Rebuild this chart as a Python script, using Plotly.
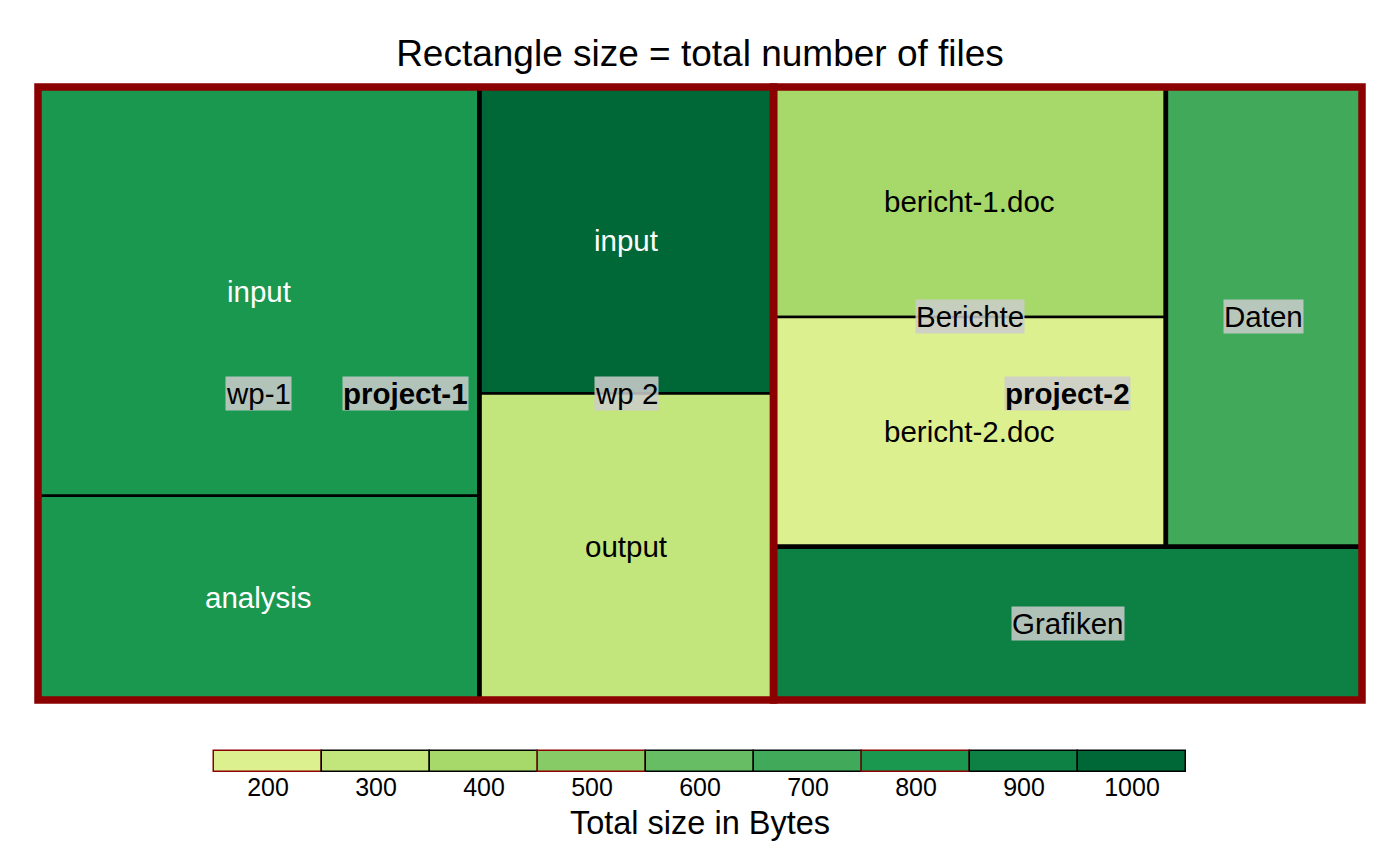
import plotly.graph_objects as go

# ---------------- data ----------------
projects = ["project-1", "project-1", "project-1", "project-1",
            "project-2", "project-2", "project-2", "project-2"]
folders = ["wp-1", "wp-1", "wp 2", "wp 2", "Berichte", "Berichte", "Daten", "Grafiken"]
files = ["input", "analysis", "input", "output", "bericht-1.doc", "bericht-2.doc", None, None]
n_files = [2, 1, 1, 1, 1, 1, 1, 1]
size_bytes = [800, 800, 1000, 300, 400, 200, 700, 900]

legend_values = [200, 300, 400, 500, 600, 700, 800, 900, 1000]
legend_colors = ["#ddf08f", "#c2e57c", "#a6d96a", "#86cb66", "#66bd63",
                 "#40aa5a", "#1a9850", "#0d8044", "#006837"]
legend_edge = ["#8b0000", "black", "black", "#8b0000", "black",
               "black", "#8b0000", "black", "black"]

title_text = "Rectangle size = total number of files"
legend_title = "Total size in Bytes"

# ---------------- geometry (layout constants, pixels) ----------------
FIG_W, FIG_H = 1400, 865
OFF = 8      # page body margin in the browser
PAD = 6      # room so thick borders are not clipped
LPAD = 2     # same for the legend boxes
MAP_L, MAP_T = 38 - OFF, 87 - OFF
MAP_R, MAP_B = 1362 - OFF, 700 - OFF
LEG_TOP, LEG_BOTTOM = 751 - OFF, 772 - OFF
LEG_LEFT, LEG_RIGHT = 214 - OFF, 1186 - OFF
W = MAP_R - MAP_L
H = MAP_B - MAP_T
AREA_L, AREA_R = MAP_L - PAD, MAP_R + PAD
AREA_T, AREA_B = MAP_T - PAD, LEG_BOTTOM + LPAD
AREA_W, AREA_H = AREA_R - AREA_L, AREA_B - AREA_T
FONT = "Liberation Sans, Arial, Helvetica, sans-serif"
LABEL_SIZE = 29.5


def color_for(v):
    idx = min(range(len(legend_values)), key=lambda i: abs(legend_values[i] - v))
    return legend_colors[idx]


def is_dark(hexcol):
    h = hexcol.lstrip("#")
    r, g, b = int(h[0:2], 16), int(h[2:4], 16), int(h[4:6], 16)
    return 0.299 * r + 0.587 * g + 0.114 * b < 140


def pivot_layout(items, x0, y0, x1, y1):
    """Ordered treemap, pivot-by-size. items: list of (key, value). y up."""
    out = {}
    if not items:
        return out
    items = sorted(items, key=lambda t: -t[1])
    if len(items) == 1:
        out[items[0][0]] = (x0, y0, x1, y1)
        return out
    w, h = x1 - x0, y1 - y0
    total = sum(v for _, v in items)
    pk, pv = items[0]
    rest = items[1:]
    best = None
    for k in range(len(rest) + 1):
        s = pv + sum(v for _, v in rest[:k])
        if w >= h:
            pw, ph = s / total * w, pv / s * h
        else:
            ph, pw = s / total * h, pv / s * w
        ar = max(pw / ph, ph / pw)
        if best is None or ar < best[0] - 1e-9:
            best = (ar, k)
    k = best[1]
    L2, L3 = rest[:k], rest[k:]
    s = pv + sum(v for _, v in L2)
    if w >= h:
        rx = x0 + s / total * w
        py = y1 - pv / s * h
        out[pk] = (x0, py, rx, y1)
        out.update(pivot_layout(L2, x0, y0, rx, py))
        out.update(pivot_layout(L3, rx, y0, x1, y1))
    else:
        ry = y1 - s / total * h
        px = x0 + pv / s * w
        out[pk] = (x0, ry, px, y1)
        out.update(pivot_layout(L2, px, ry, x1, y1))
        out.update(pivot_layout(L3, x0, y0, x1, ry))
    return out


# aggregate hierarchy
proj_order, proj_tot = [], {}
fold_order, fold_tot = {}, {}
for p, f, n in zip(projects, folders, n_files):
    if p not in proj_tot:
        proj_order.append(p)
        proj_tot[p] = 0
        fold_order[p] = []
    proj_tot[p] += n
    if (p, f) not in fold_tot:
        fold_order[p].append(f)
        fold_tot[(p, f)] = 0
    fold_tot[(p, f)] += n

proj_rects = pivot_layout([(p, proj_tot[p]) for p in proj_order], 0, 0, W, H)
fold_rects = {}
for p in proj_order:
    sub = pivot_layout([((p, f), fold_tot[(p, f)]) for f in fold_order[p]], *proj_rects[p])
    fold_rects.update(sub)
leaf_rects = []
for i, (p, f, fl) in enumerate(zip(projects, folders, files)):
    if fl is None:
        leaf_rects.append((i, fold_rects[(p, f)]))
leaf_groups = {}
for i, (p, f, fl, n) in enumerate(zip(projects, folders, files, n_files)):
    if fl is not None:
        leaf_groups.setdefault((p, f), []).append((i, n))
for key, its in leaf_groups.items():
    for i, r in pivot_layout(its, *fold_rects[key]).items():
        leaf_rects.append((i, r))
leaf_rects.sort()

shapes, annotations = [], []
cx, cy, htxt = [], [], []
for i, (x0, y0, x1, y1) in leaf_rects:
    col = color_for(size_bytes[i])
    shapes.append(dict(type="rect", xref="x", yref="y", x0=x0, y0=y0, x1=x1, y1=y1,
                       fillcolor=col, line=dict(color="black", width=2.5), layer="above"))
    cx.append((x0 + x1) / 2)
    cy.append((y0 + y1) / 2)
    htxt.append(f"{projects[i]} / {folders[i]} / {files[i] or ''}<br>{n_files[i]} files, {size_bytes[i]} B")
    if files[i] is not None:
        annotations.append(dict(x=(x0 + x1) / 2, y=(y0 + y1) / 2, xref="x", yref="y",
                                text=files[i], showarrow=False,
                                font=dict(family=FONT, size=LABEL_SIZE,
                                          color="white" if is_dark(col) else "black")))
for (p, f), (x0, y0, x1, y1) in fold_rects.items():
    shapes.append(dict(type="rect", xref="x", yref="y", x0=x0, y0=y0, x1=x1, y1=y1,
                       line=dict(color="black", width=4.5), layer="above"))
    annotations.append(dict(x=(x0 + x1) / 2, y=(y0 + y1) / 2, xref="x", yref="y",
                            text=f, showarrow=False, bgcolor="rgba(204,204,204,0.86)",
                            borderpad=0, font=dict(family=FONT, size=LABEL_SIZE, color="black")))
for p, (x0, y0, x1, y1) in proj_rects.items():
    shapes.append(dict(type="rect", xref="x", yref="y", x0=x0, y0=y0, x1=x1, y1=y1,
                       line=dict(color="#8b0000", width=7.5), layer="above"))
    annotations.append(dict(x=(x0 + x1) / 2, y=(y0 + y1) / 2, xref="x", yref="y",
                            text=f"<b>{p}</b>", showarrow=False, bgcolor="rgba(204,204,204,0.86)",
                            borderpad=0, font=dict(family=FONT, size=LABEL_SIZE, color="black")))

fig = go.Figure()
fig.add_trace(go.Scatter(x=cx, y=cy, mode="markers", marker=dict(opacity=0),
                         hovertext=htxt, hoverinfo="text", showlegend=False,
                         xaxis="x", yaxis="y"))
fig.add_trace(go.Bar(x=legend_values, y=[1] * len(legend_values), width=100,
                     marker=dict(color=legend_colors, line=dict(color=legend_edge, width=1.5)),
                     cliponaxis=False, showlegend=False, hoverinfo="x",
                     xaxis="x2", yaxis="y2"))

# legend axis: 100 units per box, LPAD px of slack around
leg_px_per_unit = (LEG_RIGHT - LEG_LEFT) / (legend_values[-1] - legend_values[0] + 100)
leg_xpad = LPAD / leg_px_per_unit
leg_ypad = LPAD / (LEG_BOTTOM - LEG_TOP)

fig.update_layout(
    width=FIG_W, height=FIG_H,
    margin=dict(l=AREA_L, r=FIG_W - AREA_R, t=AREA_T, b=FIG_H - AREA_B),
    paper_bgcolor="white", plot_bgcolor="white",
    title=dict(text=title_text, x=(700 - OFF) / FIG_W, xanchor="center", xref="container",
               y=1 - (53 - OFF) / FIG_H, yref="container", yanchor="middle",
               font=dict(family=FONT, size=37, color="black")),
    xaxis=dict(range=[-PAD, W + PAD], domain=[0, 1], visible=False, fixedrange=True),
    yaxis=dict(range=[-PAD, H + PAD],
               domain=[(AREA_B - MAP_B - PAD) / AREA_H, 1],
               visible=False, fixedrange=True),
    xaxis2=dict(range=[legend_values[0] - 50 - leg_xpad, legend_values[-1] + 50 + leg_xpad],
                domain=[(LEG_LEFT - LPAD - AREA_L) / AREA_W, (LEG_RIGHT + LPAD - AREA_L) / AREA_W],
                anchor="y2",
                tickvals=legend_values, ticktext=[str(v) for v in legend_values],
                ticks="", showgrid=False, zeroline=False, showline=False,
                ticklabelstandoff=-4,
                tickfont=dict(family=FONT, size=25, color="black"),
                title=dict(text=legend_title, standoff=11,
                           font=dict(family=FONT, size=32.5, color="black")),
                fixedrange=True),
    yaxis2=dict(range=[-leg_ypad, 1 + leg_ypad],
                domain=[0, (LEG_BOTTOM - LEG_TOP + 2 * LPAD) / AREA_H], anchor="x2",
                visible=False, fixedrange=True),
    shapes=shapes, annotations=annotations,
    bargap=0,
)

fig.write_html("out.html")
